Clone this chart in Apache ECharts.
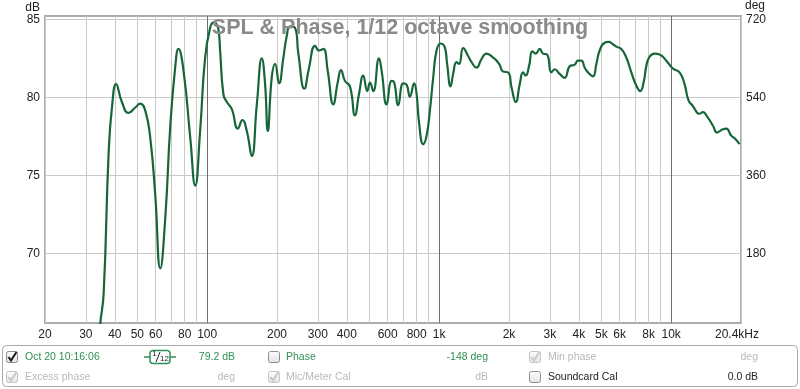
<!DOCTYPE html>
<html><head><meta charset="utf-8">
<script src="https://cdn.jsdelivr.net/npm/echarts@6/dist/echarts.min.js"></script>
<style>html,body{margin:0;padding:0;background:#fff}#c{width:800px;height:389px}</style>
</head><body><div id="c"></div>
<script>
// ---- data ----
const freqHz = [34.0,34.6,35.8,37.6,38.9,40.5,42.9,45.8,49.0,51.5,54.1,56.8,59.7,62.8,66.0,69.3,72.8,75.2,79.1,84.5,88.8,93.3,98,103,106.5,111.8,113.7,117.5,121.6,127.7,135.6,141.9,148.2,155.7,163.7,172,177.7,182.5,189.9,196.2,204.2,213.1,220.4,227.7,239.2,247.2,262.4,274.9,291.7,303.5,316.7,330.8,349.7,365.3,377.4,392.8,412.6,433.6,451.1,470.8,489.8,503.1,519.9,550.2,565,593.8,624,640,666.1,699.8,724,747.9,780.3,799.4,820.3,853.5,882.8,912,942.3,974.5,1014,1058,1082,1120,1149,1188,1219,1269,1333,1379,1449,1522,1600,1708,1813,1886,1982,2050,2139,2226,2299,2361,2440,2523,2608,2714,2804,2917,3046,3148,3308,3476,3652,3838,3966,4103,4239,4379,4603,4761,4918,5168,5377,5611,5803,6098,6408,6734,7077,7362,7629,7813,8072,8482,8913,9526,10170,10870,11420,11880,12400,13250,13690,14390,15120,15790,16430,17270,18150,18870,19700];
const splDb = [64.0,65.5,67.45,76.4,79.4,80.85,79.7,79.0,79.35,79.6,79.15,77.45,73.8,69.05,72.3,78.1,81.9,83.1,81.7,77.45,74.35,77.9,82.55,84.45,84.8,84.35,83.0,80.2,79.7,79.25,78.0,78.55,77.85,76.25,79.55,82.5,80.85,77.85,81.3,82.15,80.9,82.55,83.95,84.55,84.45,82.8,80.55,81.9,83.3,83.0,83.1,81.7,79.55,80.95,81.75,81.05,80.7,78.85,80.2,81.4,80.4,80.95,80.4,82.5,81.7,79.55,81.05,80.95,79.5,80.9,80.8,80.05,80.9,80.2,78.3,77.0,77.55,79.15,81.25,83.0,83.45,83.2,82.15,80.7,81.5,82.25,82.15,83.15,82.65,82.25,81.9,82.45,82.8,82.55,82.15,81.65,81.6,80.65,79.7,80.85,81.6,81.4,82.0,82.95,82.8,83.1,82.8,82.75,81.6,81.8,81.5,81.25,82.0,82.1,82.35,82.35,81.9,81.6,81.35,82.15,83.0,83.5,83.55,83.4,83.25,83.1,82.55,81.6,80.75,80.4,81.05,82.0,82.6,82.8,82.75,82.35,81.85,81.6,80.85,79.8,79.45,78.95,79.05,78.7,78.2,77.75,77.9,78.0,77.55,77.35,77.0];
const xTickFreqs = [20,30,40,50,60,80,100,200,300,400,600,800,1000,2000,3000,4000,5000,6000,8000,10000,20000];
const xTickLabels = ['20','30','40','50','60','80','100','200','300','400','600','800','1k','2k','3k','4k','5k','6k','8k','10k','20.4kHz'];
const xGridFreqs = [20,30,40,50,60,70,80,90,200,300,400,500,600,700,800,900,2000,3000,4000,5000,6000,7000,8000,9000,20000];
const xDecadeFreqs = [100,1000,10000];
const xRange = [20, 20000];
const dbTicks = [70,75,80,85];
const degTicks = [180,360,540,720];
const dbRange = [65.55, 85.21];
const degRange = [(dbRange[0]-65)*36, (dbRange[1]-65)*36];
const titleText = 'SPL & Phase, 1/12 octave smoothing';

// ---- chart ----
const FONT = 'Liberation Sans, Arial, sans-serif';
const lg = Math.log10;
const chart = echarts.init(document.getElementById('c'), null, {renderer:'canvas'});

function labelFor(v){
  let best = 0, bd = 1e9;
  xTickFreqs.forEach((f,i)=>{ const d = Math.abs(lg(f)-v); if(d<bd){bd=d;best=i;} });
  const t = xTickLabels[best];
  return best === xTickLabels.length-1 ? '{e|'+t+'}' : t;
}

const GREEN = '#2f8f55', GREY = '#b9b9b9', DARK = '#222';
const g = [];
// panel
g.push({type:'rect', shape:{x:2.5,y:345.5,width:795,height:41,r:4}, style:{fill:'#fff', stroke:'#a9a9a9', lineWidth:1}, z:10});
function checkbox(x,y,checked,disabled){
  g.push({type:'rect', shape:{x:x+0.5,y:y+0.5,width:11,height:11,r:2},
    style:{fill:new echarts.graphic.LinearGradient(0,0,0,1,[{offset:0,color:'#ffffff'},{offset:1,color:'#e2e2e2'}]), stroke: disabled?'#c4c4c4':'#8c8c8c', lineWidth:1}, z:11});
  if(checked){
    g.push({type:'polyline', shape:{points:[[x+2.5,y+6],[x+5,y+9.5],[x+10.5,y+1]]}, style:{stroke: disabled?'#c8c8c8':'#1a1a1a', lineWidth:2, fill:null}, z:12});
  }
}
function txt(x,y,s,color,align){
  g.push({type:'text', x:x, y:y, style:{text:s, fill:color, font:'10.5px '+FONT, align:align||'left', verticalAlign:'middle'}, z:12});
}
const r1 = 357, r2 = 377;
checkbox(6,351,true,false); txt(25,r1,'Oct 20 10:16:06',GREEN);
// smoothing icon
g.push({type:'line', shape:{x1:144,y1:r1,x2:150,y2:r1}, style:{stroke:GREEN,lineWidth:1.5}, z:12});
g.push({type:'line', shape:{x1:170,y1:r1,x2:176,y2:r1}, style:{stroke:GREEN,lineWidth:1.5}, z:12});
g.push({type:'rect', shape:{x:150,y:350.5,width:20,height:13,r:3}, style:{fill:'#fff',stroke:GREEN,lineWidth:1.5}, z:12});
g.push({type:'text', x:154.5, y:354, style:{text:'1', fill:DARK, font:'8px '+FONT, align:'center', verticalAlign:'middle'}, z:13});
g.push({type:'line', shape:{x1:156,y1:362,x2:160,y2:352}, style:{stroke:DARK,lineWidth:1}, z:13});
g.push({type:'text', x:164.5, y:359, style:{text:'12', fill:DARK, font:'8px '+FONT, align:'center', verticalAlign:'middle'}, z:13});
txt(235,r1,'79.2 dB',GREEN,'right');
checkbox(268,351,false,false); txt(286,r1,'Phase',GREEN);
txt(488,r1,'-148 deg',GREEN,'right');
checkbox(529,351,true,true); txt(548,r1,'Min phase',GREY);
txt(758,r1,'deg',GREY,'right');
checkbox(6,371,true,true); txt(25,r2,'Excess phase',GREY);
txt(235,r2,'deg',GREY,'right');
checkbox(268,371,true,true); txt(286,r2,'Mic/Meter Cal',GREY);
txt(488,r2,'dB',GREY,'right');
checkbox(529,371,false,false); txt(548,r2,'Soundcard Cal',DARK);
txt(758,r2,'0.0 dB',DARK,'right');

const option = {
  animation:false,
  backgroundColor:'#fff',
  textStyle:{fontFamily:FONT},
  title:{text:titleText, left:'center', top:12, textStyle:{fontSize:21.5, fontWeight:'bold', color:'#8a8a8a', fontFamily:FONT}, z:6},
  grid:{left:45, right:59, top:15, bottom:66, show:true, borderColor:'#ababab', borderWidth:2, backgroundColor:'#fff'},
  xAxis:[
    {type:'value', min:lg(xRange[0]), max:lg(xRange[1]), position:'bottom',
     axisLine:{show:false}, axisTick:{show:false, customValues:xGridFreqs.map(lg)},
     axisLabel:{customValues:xTickFreqs.map(lg), formatter:labelFor, color:DARK, fontSize:12, margin:6, fontFamily:FONT,
       rich:{e:{padding:[0,8,0,0], fontSize:12, color:DARK, fontFamily:FONT}}},
     splitLine:{show:true, lineStyle:{color:'#c9c9c9', width:1}}},
    {type:'value', min:lg(xRange[0]), max:lg(xRange[1]), position:'top',
     axisLine:{show:false}, axisTick:{show:false, customValues:xDecadeFreqs.map(lg)},
     axisLabel:{show:false, customValues:xDecadeFreqs.map(lg)},
     splitLine:{show:true, lineStyle:{color:'#6f6f6f', width:1}}}
  ],
  yAxis:[
    {type:'value', min:dbRange[0], max:dbRange[1], position:'left', name:'dB', nameLocation:'end', nameGap:2,
     nameTextStyle:{color:DARK, fontSize:12, align:'right', verticalAlign:'bottom', padding:[0,5,0,0], fontFamily:FONT},
     axisLine:{show:false}, axisTick:{show:false, customValues:dbTicks},
     axisLabel:{customValues:dbTicks, color:DARK, fontSize:12, margin:5, fontFamily:FONT},
     splitLine:{show:true, lineStyle:{color:'#c9c9c9', width:1}}},
    {type:'value', min:degRange[0], max:degRange[1], position:'right', name:'deg', nameLocation:'end', nameGap:4,
     nameTextStyle:{color:DARK, fontSize:12, align:'left', verticalAlign:'bottom', padding:[0,0,0,4], fontFamily:FONT},
     axisLine:{show:false}, axisTick:{show:false, customValues:degTicks},
     axisLabel:{customValues:degTicks, color:DARK, fontSize:12, margin:5, fontFamily:FONT},
     splitLine:{show:false}}
  ],
  series:[{
    type:'line', xAxisIndex:0, yAxisIndex:0, clip:true, showSymbol:false, smooth:0.5,
    lineStyle:{color:'#17663a', width:2.2},
    data:freqHz.map((f,i)=>[lg(f), splDb[i]]), z:3
  }],
  graphic:g
};
chart.setOption(option);
</script></body></html>
